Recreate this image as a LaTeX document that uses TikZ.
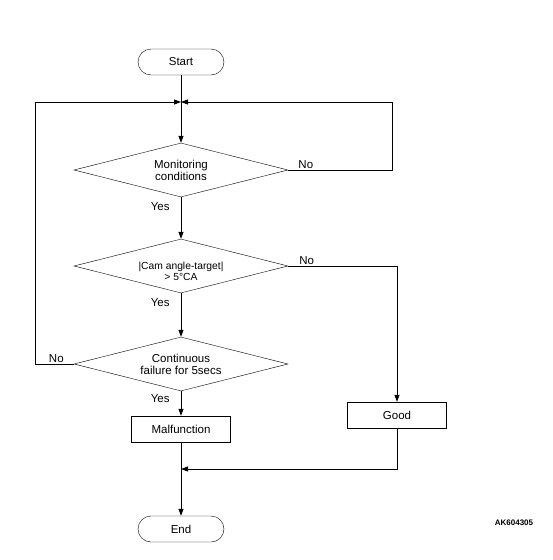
\documentclass[tikz,border=0pt]{standalone}
\usepackage{fontspec}
\setmainfont{Liberation Sans}
\usetikzlibrary{shapes.geometric,arrows.meta,positioning}

\def\midx{181}
\def\dw{214}
\def\dh{54}

\begin{document}
\begin{tikzpicture}[x=1pt, y=-1pt, auto,
    every node/.style={font=\fontsize{11.5}{12}\selectfont, align=center},
    terminal/.style={draw, rounded corners=13pt, minimum width=86pt, minimum height=26pt, inner sep=0pt},
    decision/.style={draw, diamond, aspect=4, minimum width=\dw pt, minimum height=\dh pt, inner sep=0pt},
    process/.style={draw, rectangle, minimum width=99pt, minimum height=26pt, inner sep=0pt},
    flow/.style={-{Triangle[length=7pt,width=5pt]}, line width=0.8pt},
    line/.style={line width=0.8pt},
    lbl/.style={inner sep=1pt}]
  \useasboundingbox (0,0) rectangle (553,560);

  % nodes
  \node[terminal] (start) at (\midx,62) {Start};
  \coordinate (loop) at (\midx,102);
  \node[decision] (cond) at (\midx,170) {Monitoring\\conditions};
  \node[decision] (cam) at (\midx,266) {};
  \node[font=\fontsize{10.3}{11}\selectfont] (camtext) at (\midx,271) {|Cam angle-target|\\> 5°CA};
  \node[decision] (fail) at (\midx,364) {Continuous\\failure for 5secs};
  \node[process] (bad) at (\midx,429) {Malfunction};
  \node[process] (good) at (397,415) {Good};
  \coordinate (join) at (\midx,469);
  \node[terminal] (stop) at (\midx,529) {End};

  % connectors
  \draw[line] (start) -- (loop);
  \draw[flow] (loop) -- (cond);
  \draw[flow] (cond) -- node[lbl, pos=0.22, left=10pt] {Yes} (cam);
  \draw[flow] (cam) -- node[lbl, pos=0.22, left=10pt] {Yes} (fail);
  \draw[flow] (fail) -- node[lbl, pos=0.3, left=10pt] {Yes} (bad);
  \draw[flow] (cond.east) -- node[lbl, above, pos=0.17] {No} (392,170) |- (loop);
  \draw[flow] (fail.west) -- node[lbl, above, pos=0.45] {No} (35,364) |- (loop);
  \draw[flow] (cam.east) -- node[lbl, above, pos=0.17] {No} (good.north |- cam.east) -- (good.north);
  \draw[flow] (good.south) |- (join);
  \draw[flow] (bad) -- (stop);

  \node[font=\bfseries\fontsize{8}{9}\selectfont] (code) at (514,523) {AK604305};
\end{tikzpicture}
\end{document}
